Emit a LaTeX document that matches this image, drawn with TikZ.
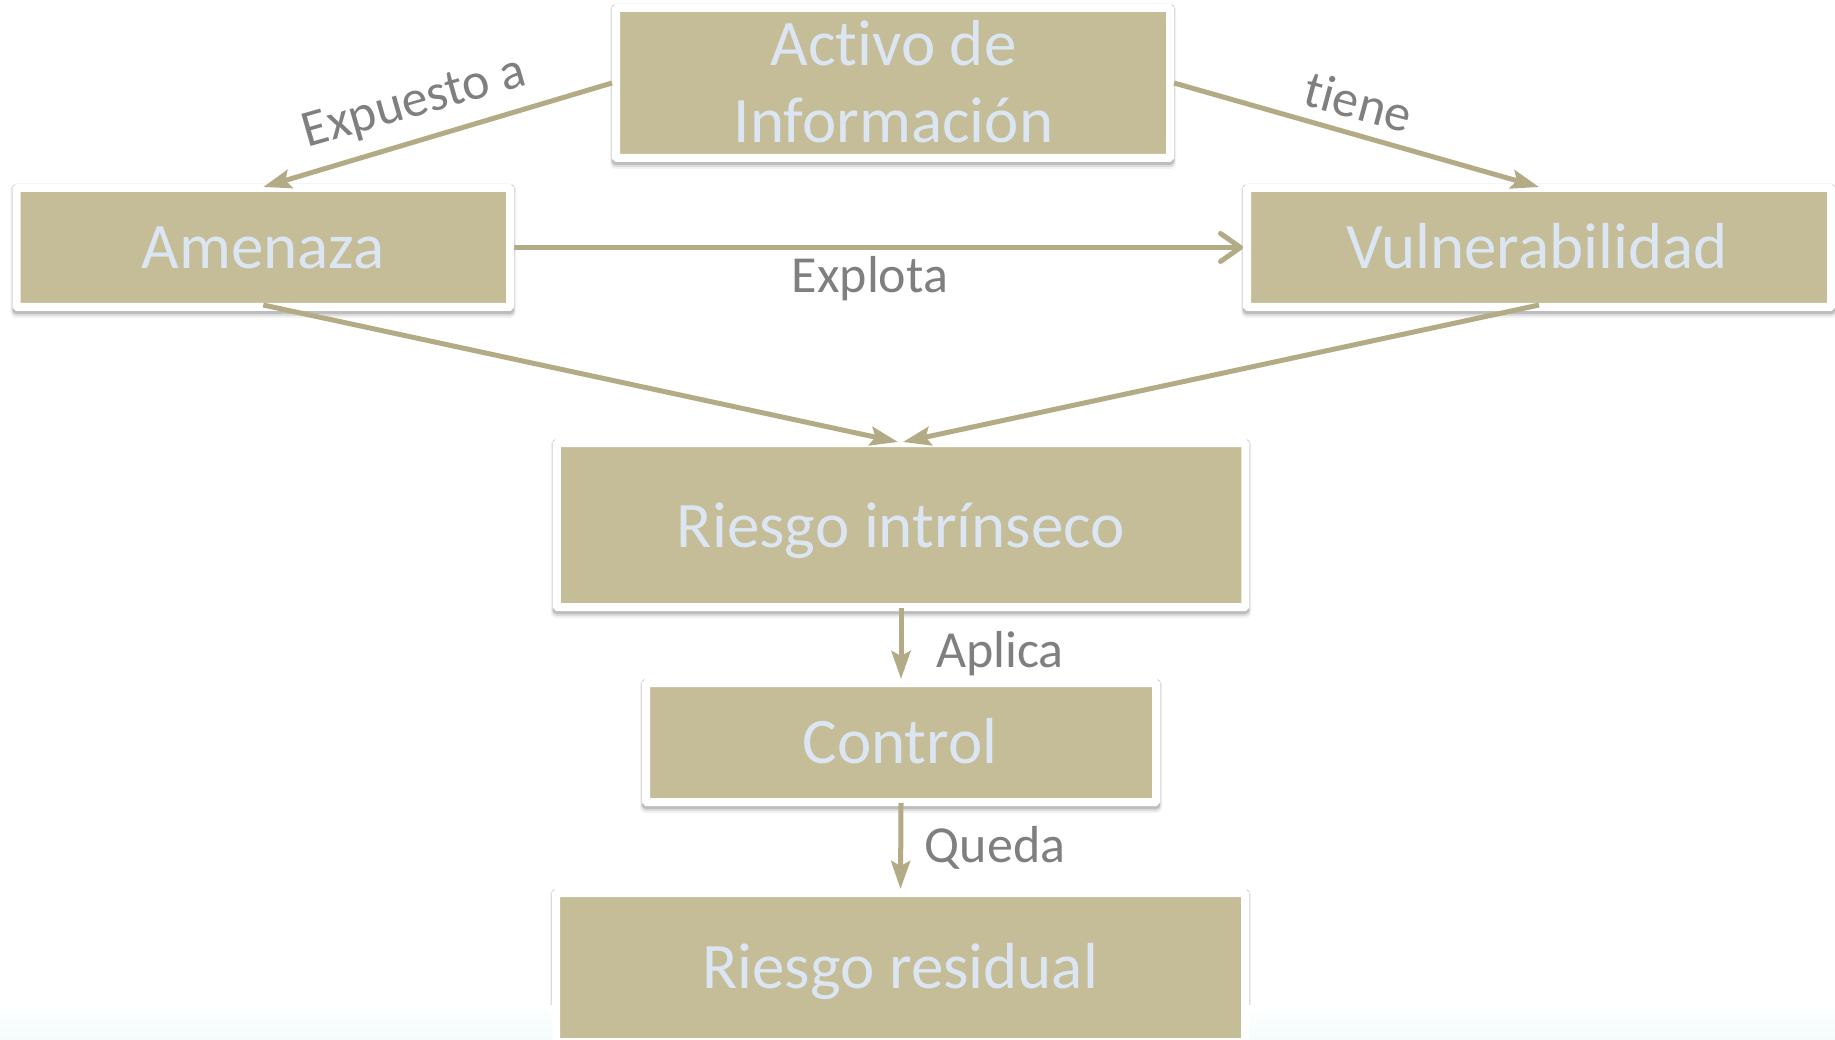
\documentclass[tikz,border=0pt]{standalone}
\usepackage{fontspec}
\setmainfont{Carlito}[Ligatures={NoCommon}]
\usetikzlibrary{arrows.meta}
\definecolor{boxfill}{HTML}{C4BD97}
\definecolor{boxtext}{HTML}{DCE6F2}
\definecolor{lblgray}{HTML}{7F7F7F}
\definecolor{conncol}{HTML}{B3AB85}
\definecolor{bandcol}{HTML}{F3FBFB}
\pgfdeclarelayer{bg}
\pgfsetlayers{bg,main}
\tikzset{
  tanbox/.style={rectangle, fill=boxfill, draw=white, line width=8pt, rounded corners=1pt, inner sep=0pt},
  boxtxt/.style={text=boxtext, font=\fontsize{65}{77}\selectfont, anchor=base, inner sep=0pt},
  lab/.style={text=lblgray, font=\fontsize{52}{62}\selectfont, anchor=base, inner sep=0pt},
  conn/.style={draw=conncol, line width=5pt, -{Stealth[length=28pt,width=19pt,inset=5pt]}},
  openconn/.style={draw=conncol, line width=5pt, -{Straight Barb[length=20pt,width=28pt,round]}}
}
\begin{document}
\begin{tikzpicture}[x=1pt,y=-1pt]
\useasboundingbox (0,0) rectangle (1835,1040);
\shade[top color=white, bottom color=bandcol] (0,1005) rectangle (1835,1040);

% boxes
\node[tanbox, minimum width=554pt, minimum height=150pt] (act) at (893,83) {};
\node[tanbox, minimum width=493.5pt, minimum height=119pt] (ame) at (263.25,247.5) {};
\node[tanbox, minimum width=584pt, minimum height=119pt] (vul) at (1539,247.5) {};
\node[tanbox, minimum width=688.5pt, minimum height=164pt] (rin) at (901,525) {};
\node[tanbox, minimum width=510pt, minimum height=119pt] (ctl) at (901,742.5) {};
\node[tanbox, minimum width=689pt, minimum height=149pt] (res) at (900.5,967.5) {};

% shadows
\begin{pgfonlayer}{bg}
\foreach \n in {act,ame,vul,rin,ctl,res}{
  \fill[black, opacity=0.05, rounded corners=6pt] ([xshift=-2pt,yshift=-7pt]\n.south west) rectangle ([xshift=2pt]\n.north east);
  \fill[black, opacity=0.09, rounded corners=5pt] ([xshift=-1pt,yshift=-5pt]\n.south west) rectangle ([xshift=1pt]\n.north east);
  \fill[black, opacity=0.14, rounded corners=4pt] ([yshift=-3pt]\n.south west) rectangle (\n.north east);
}
\end{pgfonlayer}

% box texts
\node[boxtxt] (actA) at (893.5,66) {Act\kern0pt ivo de};
\node[boxtxt] (actB) at (893.5,143) {Información};
\node[boxtxt] (ameT) at (263,269) {Amenaza};
\node[boxtxt] (vulT) at (1537,269) {Vulnerabilidad};
\node[boxtxt] (rinT) at (901,547) {Riesgo intrínseco};
\node[boxtxt] (ctlT) at (900,763) {Control};
\node[boxtxt] (resT) at (900,988) {Riesgo residual};

% connectors
\draw[conn] (act.west) -- ([yshift=-3pt]ame.north);
\draw[conn] (act.east) -- ([yshift=-3pt]vul.north);
\draw[openconn] (ame.east) -- (vul.west);
\draw[conn] ([yshift=6pt]ame.south) -- ([xshift=-3pt,yshift=-3pt]rin.north);
\draw[conn] ([yshift=6pt]vul.south) -- ([xshift=2pt,yshift=-3pt]rin.north);
\draw[conn] ([yshift=3pt]rin.south) -- (ctl.north);
\draw[conn] ([yshift=3pt]ctl.south) -- (res.north);

% labels
\node[lab, rotate=16] (lExp) at (418,116) {Expuesto a};
\node[lab, rotate=-15] (lTie) at (1354,119) {t\kern0pt iene};
\node[lab] (lXpl) at (870,293) {Explota};
\node[lab] (lApl) at (1000,667) {Aplica};
\node[lab] (lQue) at (995,862) {Queda};
\end{tikzpicture}
\end{document}
